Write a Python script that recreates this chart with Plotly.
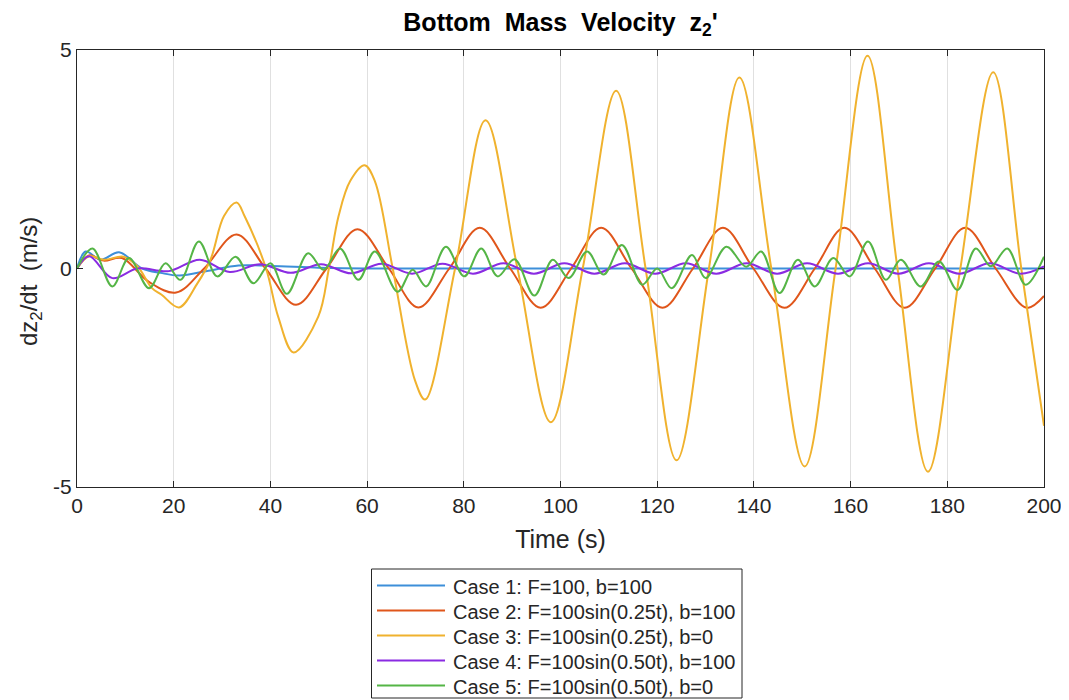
import plotly.graph_objects as go

# ---------------- data ----------------
case_labels = [
    "Case 1: F=100, b=100",
    "Case 2: F=100sin(0.25t), b=100",
    "Case 3: F=100sin(0.25t), b=0",
    "Case 4: F=100sin(0.50t), b=100",
    "Case 5: F=100sin(0.50t), b=0",
]

t_case1 = [0, 1.8, 4.9, 8.7, 13.5, 17.3, 21.2, 27.2, 33.4, 40, 50, 60, 80, 120, 160, 200]
v_case1 = [0, 0.39, 0.2, 0.37, 0.0, -0.1, -0.16, -0.05, 0.07, 0.06, 0.02, 0.0, 0.0, 0.0, 0.0, 0.0]

t_case2 = [0, 2.5, 5.5, 9.3, 14.8, 20.5, 26.3, 33, 39, 45.3, 51.6, 58, 64.5, 70.6, 77, 83.3,
           89.6, 95.9, 102.2, 108.4, 114.7, 121.1, 127.4, 133.6, 139.9, 146.3, 152.6,
           158.7, 165, 171.2, 177.5, 183.7, 190, 196.4, 200]
v_case2 = [0, 0.3, 0.18, 0.24, -0.3, -0.55, 0.0, 0.78, 0.0, -0.83, 0.0, 0.9, 0.0, -0.89, 0.0, 0.93,
           0.0, -0.9, 0.0, 0.93, 0.0, -0.9, 0.0, 0.93, 0.0, -0.9, 0.0,
           0.93, 0.0, -0.9, 0.0, 0.93, 0.0, -0.9, -0.63]

t_case3 = [0, 2.5, 5.6, 9.6, 12.5, 15.5, 17.5, 21.1, 24.9, 27.6, 30.4, 33, 34.7, 39.1, 41.6,
           44.8, 49.9, 52.1, 54.1, 56.5, 59.5, 61.6, 65.3, 69.9, 72, 78.2, 84.5, 91.1, 98,
           104.6, 111.5, 117.6, 124, 130.7, 137, 143.6, 150.5, 156.9, 163.5, 169.7, 176,
           182.7, 189.5, 195.3, 200]
v_case3 = [0, 0.28, 0.2, 0.27, 0.05, -0.45, -0.6, -0.89, -0.34, 0.2, 1.2, 1.51, 1.19, 0.0, -1.1,
           -1.92, -1.1, 0.0, 1.2, 2.0, 2.36, 2.0, 0.0, -2.56, -3.0, 0.0, 3.39, 0.0, -3.52,
           0.0, 4.07, 0.0, -4.39, 0.0, 4.37, 0.0, -4.53, 0.0, 4.87, 0.0, -4.65,
           0.0, 4.49, 0.0, -3.6]

t_case4 = [0, 2.5, 7.3, 12.5, 19, 25.4, 31.6, 37.9, 44.2, 50.5, 56.7, 63, 69.3, 75.6, 81.9,
           88.2, 94.5, 100.8, 107, 113.3, 119.6, 125.9, 132.2, 138.5, 144.8, 151, 157.4,
           163.6, 169.9, 176.2, 182.5, 188.8, 195.1, 200]
v_case4 = [0, 0.28, -0.22, 0.0, -0.06, 0.2, -0.08, 0.1, -0.1, 0.1, -0.11, 0.11, -0.12, 0.11, -0.12,
           0.12, -0.12, 0.12, -0.12, 0.12, -0.12, 0.12, -0.12, 0.12, -0.12, 0.12, -0.12,
           0.12, -0.12, 0.12, -0.12, 0.12, -0.12, 0.05]

t_case5 = [0, 3.2, 7.3, 10.75, 14.9, 18.3, 21.4, 25.2, 29, 32.8, 36.5, 40, 43.4, 47.8, 51,
           54.4, 58.2, 61.6, 66.3, 69.4, 72.2, 76.3, 80.1, 83.6, 87, 90.5, 94.6, 98.4, 101.7,
           105.5, 108.9, 112.7, 116.9, 120, 123, 127.2, 130, 134.3, 138.4, 141.5, 145.3,
           149.1, 152.6, 156.4, 159.8, 163.6, 167.3, 170.4, 174.5, 178.3, 182.1, 185.9,
           189, 192.4, 196.2, 200]
v_case5 = [0, 0.46, -0.41, 0.24, -0.45, 0.12, -0.26, 0.62, -0.18, 0.27, -0.34, 0.12, -0.58, 0.35, -0.03,
           0.46, -0.26, 0.39, -0.53, -0.03, -0.41, 0.5, -0.18, 0.46, -0.18, 0.21, -0.62, 0.2, -0.22,
           0.39, -0.14, 0.54, -0.37, 0.0, -0.45, 0.31, -0.22, 0.5, 0.04, 0.39, -0.56,
           0.2, -0.41, 0.24, -0.18, 0.62, -0.26, 0.2, -0.41, 0.16, -0.49, 0.46,
           0.05, 0.46, -0.37, 0.27]

x_ticks = [0, 20, 40, 60, 80, 100, 120, 140, 160, 180, 200]
y_ticks = [-5, 0, 5]
y_tick_labels = ["-5", "0", "5"]

# ---------------- figure geometry ----------------
# the page body has an 8px margin, so the figure is placed at (8, 8)
PAGE_OFF = 8
FIG_W, FIG_H = 1069 - PAGE_OFF, 700 - PAGE_OFF
PLOT_L, PLOT_R, PLOT_T, PLOT_B = 77, 1044, 50, 487  # in window pixels
M_L = PLOT_L - PAGE_OFF
M_T = PLOT_T - PAGE_OFF
M_R = PAGE_OFF + FIG_W - PLOT_R
M_B = PAGE_OFF + FIG_H - PLOT_B
PW, PH = PLOT_R - PLOT_L, PLOT_B - PLOT_T


def px_to_paper_x(px):
    return (px - PLOT_L) / PW


def px_to_paper_y(py):
    return (PLOT_B - py) / PH


colors = ["#3D8FD9", "#E0561B", "#F0B22E", "#8A2BE2", "#55B546"]
series = [(t_case1, v_case1), (t_case2, v_case2), (t_case3, v_case3),
          (t_case4, v_case4), (t_case5, v_case5)]

FONT = "Liberation Sans, Arial, Helvetica, sans-serif"
TXT = "#262626"

fig = go.Figure()
for (tt, vv), name, col in zip(series, case_labels, colors):
    fig.add_trace(go.Scatter(
        x=tt, y=vv, mode="lines", name=name, showlegend=False,
        line=dict(color=col, width=2, shape="spline", smoothing=1.0),
    ))

# ---------------- legend (drawn as box + line samples + text) ----------------
LEG_L, LEG_R, LEG_T, LEG_B = 371.5, 742, 569, 698
ROW_Y0, ROW_DY = 585.5, 25
SAMPLE_X0, SAMPLE_X1, TEXT_X = 377, 445, 451

shapes = [dict(type="rect", xref="paper", yref="paper",
               x0=px_to_paper_x(LEG_L), x1=px_to_paper_x(LEG_R),
               y0=px_to_paper_y(LEG_B), y1=px_to_paper_y(LEG_T),
               line=dict(color=TXT, width=1), fillcolor="white", layer="above")]
annotations = []
for i, (name, col) in enumerate(zip(case_labels, colors)):
    yy = ROW_Y0 + i * ROW_DY
    shapes.append(dict(type="line", xref="paper", yref="paper",
                       x0=px_to_paper_x(SAMPLE_X0), x1=px_to_paper_x(SAMPLE_X1),
                       y0=px_to_paper_y(yy), y1=px_to_paper_y(yy),
                       line=dict(color=col, width=2), layer="above"))
    annotations.append(dict(xref="paper", yref="paper",
                            x=px_to_paper_x(TEXT_X), y=px_to_paper_y(yy + 1),
                            xanchor="left", yanchor="middle", showarrow=False,
                            text=name, font=dict(family=FONT, size=20, color=TXT)))

# y-axis title, placed like the reference (slightly below the axis middle)
annotations.append(dict(xref="paper", yref="paper",
                        x=px_to_paper_x(30), y=px_to_paper_y(282),
                        xanchor="center", yanchor="middle", showarrow=False,
                        textangle=-90,
                        text="dz<sub>2</sub>/dt\u00a0 (m/s)",
                        font=dict(family=FONT, size=24, color=TXT)))

fig.update_layout(
    width=FIG_W, height=FIG_H,
    margin=dict(l=M_L, r=M_R, t=M_T, b=M_B, autoexpand=False),
    paper_bgcolor="white", plot_bgcolor="white",
    font=dict(family=FONT, size=21, color=TXT),
    title=dict(
        text="<b>Bottom\u00a0 Mass\u00a0 Velocity\u00a0 z<sub>2</sub>'</b>",
        x=0.5, xref="paper", xanchor="center",
        y=1 - (22 - PAGE_OFF) / FIG_H, yref="container", yanchor="middle",
        font=dict(family=FONT, size=25, color="#000000"),
    ),
    showlegend=False,
    shapes=shapes,
    annotations=annotations,
)

fig.update_xaxes(
    range=[0, 200], tickvals=x_ticks,
    showgrid=True, gridcolor="#E0E0E0", gridwidth=1,
    zeroline=False,
    showline=True, linecolor=TXT, linewidth=1, mirror="ticks",
    ticks="inside", ticklen=6, tickcolor=TXT,
    tickfont=dict(size=21, color=TXT),
    title=dict(text="Time (s)", font=dict(size=25, color=TXT), standoff=14),
)
fig.update_yaxes(
    range=[-5, 5], tickvals=y_ticks, ticktext=y_tick_labels,
    showgrid=False, zeroline=False,
    showline=True, linecolor=TXT, linewidth=1, mirror="ticks",
    ticks="inside", ticklen=6, tickcolor=TXT,
    tickfont=dict(size=21, color=TXT),
)

fig.write_html("out.html")
